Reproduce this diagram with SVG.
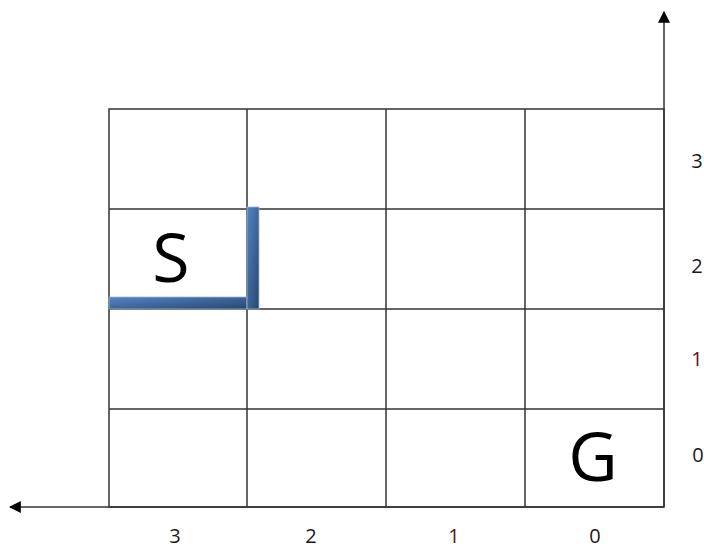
<svg xmlns="http://www.w3.org/2000/svg" width="704" height="548" viewBox="0 0 704 548">
<defs>
<style>
.grid{stroke:#333;stroke-width:1.5;fill:none}
.axis{stroke:#666;stroke-width:2;fill:none}
.lbl{font-family:"Open Sans","Liberation Sans",sans-serif;font-size:20px;fill:#1a1a1a;text-anchor:middle}
.big{font-family:"Open Sans","Liberation Sans",sans-serif;font-size:68px;fill:#000;text-anchor:middle}
.wall{fill:url(#wg);stroke:#9fb6d6;stroke-width:0.8}
</style>
<linearGradient id="wg" x1="0" y1="0" x2="1" y2="1">
<stop offset="0" stop-color="#5585c4"/>
<stop offset="1" stop-color="#27466e"/>
</linearGradient>
<marker id="ah" viewBox="0 0 10 10" refX="9" refY="5" markerWidth="6" markerHeight="6" orient="auto" markerUnits="strokeWidth">
<path d="M0,0 L10,5 L0,10 z" fill="#000"/>
</marker>
</defs>
<rect width="704" height="548" fill="#fff"/>
<g id="connectors">
<line class="axis" x1="664" y1="507" x2="664" y2="12" marker-end="url(#ah)"/>
<line class="axis" x1="664" y1="507" x2="10" y2="507" marker-end="url(#ah)"/>
</g>
<g id="grid">
<rect class="grid" x="109" y="109" width="555" height="398"/>
<line class="grid" x1="247" y1="109" x2="247" y2="507"/>
<line class="grid" x1="386" y1="109" x2="386" y2="507"/>
<line class="grid" x1="525" y1="109" x2="525" y2="507"/>
<line class="grid" x1="109" y1="209" x2="664" y2="209"/>
<line class="grid" x1="109" y1="309" x2="664" y2="309"/>
<line class="grid" x1="109" y1="409" x2="664" y2="409"/>
</g>
<g id="walls">
<rect class="wall" x="109" y="297" width="138" height="12"/>
<rect class="wall" x="247" y="207" width="12" height="102"/>
</g>
<g id="start"><text class="big" x="171" y="282">S</text></g>
<g id="goal"><text class="big" x="593" y="481">G</text></g>
<g id="labels">
<text class="lbl" x="697" y="168">3</text>
<text class="lbl" x="697" y="273">2</text>
<text class="lbl" x="697" y="366" style="fill:#5a1515">1</text>
<text class="lbl" x="698" y="462">0</text>
<text class="lbl" x="175" y="543">3</text>
<text class="lbl" x="311" y="543">2</text>
<text class="lbl" x="454" y="543" style="fill:#5a1515">1</text>
<text class="lbl" x="595" y="543">0</text>
</g>
</svg>
